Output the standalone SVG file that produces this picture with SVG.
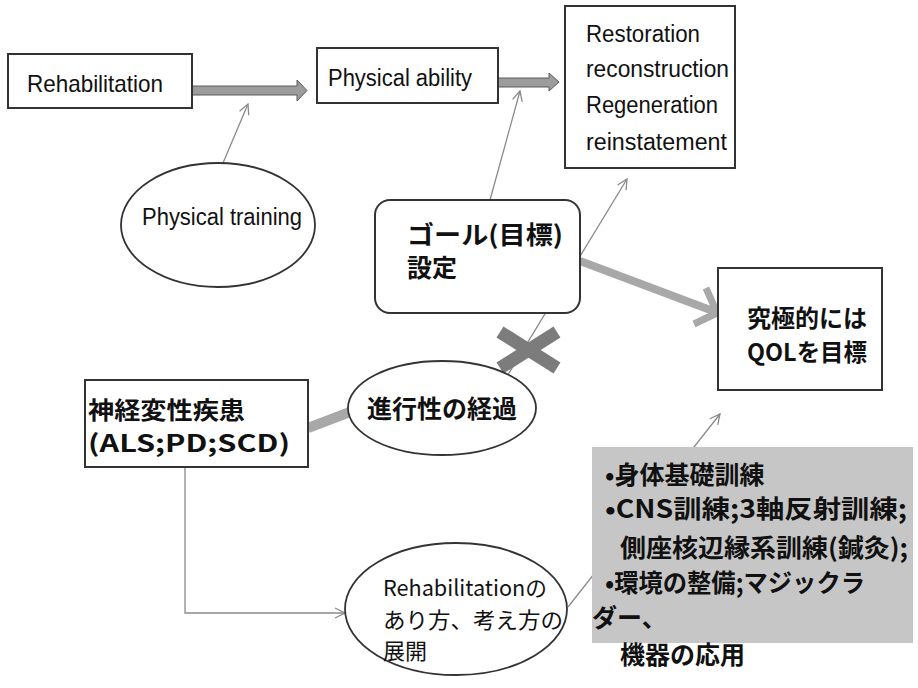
<svg xmlns="http://www.w3.org/2000/svg" width="918" height="688" viewBox="0 0 918 688">
<defs>
<style>
.box{fill:#fff;stroke:#333;stroke-width:2}
.ell{fill:#fff;stroke:#333;stroke-width:1.8}
.lat{font-family:"Liberation Sans",Arial,sans-serif;fill:#111}
.jp{font-family:"Noto Sans CJK JP","Noto Sans CJK SC",sans-serif;fill:#111}
.jpb{font-family:"Noto Sans CJK JP","Noto Sans CJK SC",sans-serif;fill:#111;font-weight:700}
.thin{fill:none;stroke:#8a8a8a;stroke-width:1.3}
.fat{fill:#9c9c9c;stroke:#5a5a5a;stroke-width:1}
</style>
<marker id="ah" viewBox="0 0 12 12" refX="11" refY="6" markerWidth="12" markerHeight="12" markerUnits="userSpaceOnUse" orient="auto">
<path d="M1,1 L11,6 L1,11" fill="none" stroke="#8a8a8a" stroke-width="1.3"/>
</marker>
</defs>
<rect width="918" height="688" fill="#fff"/>

<g id="connectors">
<polygon class="fat" points="192,86 297,86 297,80 307,90.5 297,101 297,95 192,95"/>
<polygon class="fat" points="498,78 549,78 549,73 559,82 549,91 549,87 498,87"/>
<line class="thin" x1="223" y1="163" x2="248" y2="104" marker-end="url(#ah)"/>
<line class="thin" x1="490" y1="200" x2="520" y2="91" marker-end="url(#ah)"/>
<line class="thin" x1="500" y1="388" x2="627" y2="179" marker-end="url(#ah)"/>
<line class="thin" x1="568" y1="607" x2="720" y2="414" marker-end="url(#ah)"/>
<polyline class="thin" points="185,467 185,613 345,613" marker-end="url(#ah)"/>
<line x1="580" y1="261" x2="713" y2="311" stroke="#a8a8a8" stroke-width="8"/>
<polyline points="694,324 717,313 706,288" fill="none" stroke="#a8a8a8" stroke-width="7" stroke-linejoin="miter"/>
<line x1="308" y1="428" x2="350" y2="412" stroke="#a8a8a8" stroke-width="10"/>
<line x1="500" y1="332" x2="557" y2="368" stroke="#7c7c7c" stroke-width="13"/>
<line x1="557" y1="332" x2="500" y2="368" stroke="#7c7c7c" stroke-width="13"/>
</g>

<g id="rehabilitation">
<rect class="box" x="8" y="54" width="184" height="54"/>
<text class="lat" x="27" y="92" font-size="24" textLength="136" lengthAdjust="spacingAndGlyphs">Rehabilitation</text>
</g>

<g id="physical-ability">
<rect class="box" x="317" y="48" width="181" height="55"/>
<text class="lat" x="328" y="86" font-size="23" textLength="144" lengthAdjust="spacingAndGlyphs">Physical ability</text>
</g>

<g id="restoration">
<rect class="box" x="565" y="6" width="170" height="162"/>
<text class="lat" x="586" y="42" font-size="23" textLength="114" lengthAdjust="spacingAndGlyphs">Restoration</text>
<text class="lat" x="586" y="77" font-size="23" textLength="143" lengthAdjust="spacingAndGlyphs">reconstruction</text>
<text class="lat" x="586" y="113" font-size="23" textLength="132" lengthAdjust="spacingAndGlyphs">Regeneration</text>
<text class="lat" x="586" y="150" font-size="23" textLength="141" lengthAdjust="spacingAndGlyphs">reinstatement</text>
</g>

<g id="physical-training">
<ellipse class="ell" cx="218" cy="225" rx="97" ry="62"/>
<text class="lat" x="142" y="225" font-size="23" textLength="160" lengthAdjust="spacingAndGlyphs">Physical training</text>
</g>

<g id="goal">
<rect class="box" x="375" y="200" width="205" height="113" rx="15"/>
<text class="jpb" x="407" y="244" font-size="25" textLength="156" lengthAdjust="spacingAndGlyphs">ゴール(目標)</text>
<text class="jpb" x="407" y="277" font-size="25">設定</text>
</g>

<g id="qol">
<rect class="box" x="718" y="268" width="164" height="122"/>
<text class="jpb" x="747" y="327" font-size="24" textLength="120" lengthAdjust="spacingAndGlyphs">究極的には</text>
<text class="jpb" x="747" y="361" font-size="24" textLength="120" lengthAdjust="spacingAndGlyphs">QOLを目標</text>
</g>

<g id="neuro">
<rect class="box" x="85" y="380" width="223" height="87"/>
<text class="jpb" x="88" y="419" font-size="24" textLength="157" lengthAdjust="spacingAndGlyphs">神経変性疾患</text>
<text class="jpb" x="88" y="452" font-size="24" textLength="202" lengthAdjust="spacingAndGlyphs">(ALS;PD;SCD)</text>
</g>

<g id="progression">
<ellipse class="ell" cx="442" cy="408" rx="94" ry="47"/>
<text class="jpb" x="442" y="418" font-size="25" text-anchor="middle">進行性の経過</text>
</g>

<g id="rehab-way">
<ellipse class="ell" cx="456" cy="609" rx="111" ry="66"/>
<text class="jp" x="383" y="596" font-size="22" textLength="164" lengthAdjust="spacingAndGlyphs">Rehabilitationの</text>
<text class="jp" x="383" y="628" font-size="22" textLength="180" lengthAdjust="spacingAndGlyphs">あり方、考え方の</text>
<text class="jp" x="383" y="659" font-size="22">展開</text>
</g>

<g id="training-list">
<rect x="592" y="447" width="321" height="196" fill="#c6c6c6"/>
<text class="jpb" x="605" y="484" font-size="25">•身体基礎訓練</text>
<text class="jpb" x="605" y="518" font-size="25" textLength="302" lengthAdjust="spacingAndGlyphs">•CNS訓練;3軸反射訓練;</text>
<text class="jpb" x="620" y="557" font-size="25" textLength="288" lengthAdjust="spacingAndGlyphs">側座核辺縁系訓練(鍼灸);</text>
<text class="jpb" x="605" y="592" font-size="25" textLength="260" lengthAdjust="spacingAndGlyphs">•環境の整備;マジックラ</text>
<text class="jpb" x="592" y="627" font-size="25">ダー、</text>
<text class="jpb" x="620" y="664" font-size="25">機器の応用</text>
</g>
</svg>
